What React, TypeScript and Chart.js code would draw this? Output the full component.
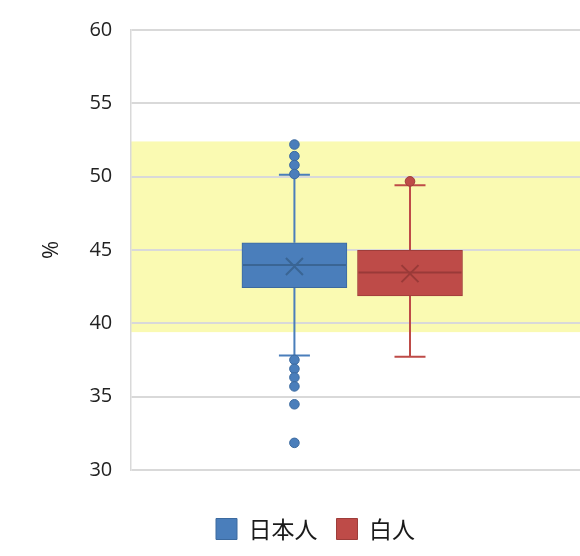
import React, { useEffect, useRef } from 'react';
import { Chart, registerables } from 'chart.js';

Chart.register(...registerables);

// ---- data ----
const SERIES_LABELS = ['日本人', '白人'];
const Q1 = [42.44, 41.87];
const Q3 = [45.49, 44.98];
const MEDIAN = [43.98, 43.46];
const MEAN = [43.87, 43.39];
const WHISKER_LOW = [37.8, 37.73];
const WHISKER_HIGH = [50.13, 49.41];
const OUTLIERS_JP = [52.19, 51.4, 50.79, 50.18, 37.51, 36.9, 36.31, 35.7, 34.48, 31.85];
const OUTLIERS_WHITE = [49.68];
const BAND_RANGE = [39.4, 52.4];
const Y_MIN = 30;
const Y_MAX = 60;
const Y_STEP = 5;

// ---- layout / style ----
const POS = [0.365, 0.622];
const FILL = ['#4a7ebb', '#be4b48'];
const EDGE = ['#3c6a9f', '#9e3d3a'];
const DARK = ['#3a6594', '#9a3a38'];
const BOX_WIDTH = 105;
const CAP_WIDTH = 31;
const BAND_COLOR = '#fafab2';
const GRID_COLOR = '#d9d9d9';

export default function App() {
  const ref = useRef<HTMLCanvasElement>(null);

  useEffect(() => {
    if (!ref.current) return;
    const outliers = [OUTLIERS_JP, OUTLIERS_WHITE];

    const boxExtras = {
      id: 'boxExtras',
      beforeDraw(chart: any) {
        const { ctx, chartArea, scales } = chart;
        const y = scales.y;
        const top = y.getPixelForValue(BAND_RANGE[1]);
        const bottom = y.getPixelForValue(BAND_RANGE[0]);
        ctx.save();
        ctx.fillStyle = BAND_COLOR;
        ctx.fillRect(chartArea.left, top, chartArea.right - chartArea.left, bottom - top);
        ctx.restore();
      },
      beforeDatasetsDraw(chart: any) {
        const { ctx, scales } = chart;
        const x = scales.x;
        const y = scales.y;
        ctx.save();
        ctx.lineWidth = 2;
        for (let i = 0; i < SERIES_LABELS.length; i++) {
          const cx = x.getPixelForValue(POS[i]);
          ctx.strokeStyle = FILL[i];
          const pts: [number, number][] = [
            [Q3[i], WHISKER_HIGH[i]],
            [Q1[i], WHISKER_LOW[i]],
          ];
          for (const [from, to] of pts) {
            const y0 = y.getPixelForValue(from);
            const y1 = y.getPixelForValue(to);
            ctx.beginPath();
            ctx.moveTo(cx, y0);
            ctx.lineTo(cx, y1);
            ctx.moveTo(cx - CAP_WIDTH / 2, y1);
            ctx.lineTo(cx + CAP_WIDTH / 2, y1);
            ctx.stroke();
          }
        }
        ctx.restore();
      },
      afterDatasetsDraw(chart: any) {
        const { ctx, scales } = chart;
        const x = scales.x;
        const y = scales.y;
        ctx.save();
        for (let i = 0; i < SERIES_LABELS.length; i++) {
          const cx = x.getPixelForValue(POS[i]);
          ctx.strokeStyle = DARK[i];
          ctx.lineWidth = 2;
          const my = y.getPixelForValue(MEDIAN[i]);
          ctx.beginPath();
          ctx.moveTo(cx - BOX_WIDTH / 2 + 1, my);
          ctx.lineTo(cx + BOX_WIDTH / 2 - 1, my);
          ctx.stroke();
          const ay = y.getPixelForValue(MEAN[i]);
          const s = 8.5;
          ctx.beginPath();
          ctx.moveTo(cx - s, ay - s);
          ctx.lineTo(cx + s, ay + s);
          ctx.moveTo(cx + s, ay - s);
          ctx.lineTo(cx - s, ay + s);
          ctx.stroke();
        }
        ctx.restore();
      },
    };

    const boxDatasets = SERIES_LABELS.map((label, i) => ({
      type: 'bar' as const,
      label,
      data: [{ x: POS[i], y: [Q1[i], Q3[i]] }],
      backgroundColor: FILL[i],
      borderColor: EDGE[i],
      borderWidth: 1,
      borderSkipped: false,
      barThickness: BOX_WIDTH,
      grouped: false,
      order: 2,
    }));

    const outlierDatasets = SERIES_LABELS.map((label, i) => ({
      type: 'scatter' as const,
      label: label + ' outliers',
      data: outliers[i].map((v) => ({ x: POS[i], y: v })),
      backgroundColor: FILL[i],
      borderColor: EDGE[i],
      borderWidth: 1,
      pointRadius: 4.8,
      order: 1,
    }));

    const chart = new Chart(ref.current, {
      type: 'bar',
      data: { datasets: [...boxDatasets, ...outlierDatasets] as any },
      options: {
        responsive: false,
        animation: false,
        layout: { autoPadding: false, padding: { left: 37, right: -14, top: 28, bottom: 5.5 } },
        plugins: {
          tooltip: { enabled: false },
          legend: {
            position: 'bottom',
            labels: {
              filter: (item: any) => item.datasetIndex < SERIES_LABELS.length,
              boxWidth: 21,
              boxHeight: 21,
              padding: 19,
              color: '#1a1a1a',
              font: { family: '"Noto Sans CJK JP", "Noto Sans", sans-serif', size: 23 },
            },
          },
        },
        scales: {
          x: {
            type: 'linear',
            min: 0,
            max: 1,
            offset: false,
            display: true,
            grid: { display: false, offset: false },
            border: { display: false },
            ticks: { display: false },
            afterFit: (scale: any) => {
              scale.height = 28.5;
            },
          },
          y: {
            min: Y_MIN,
            max: Y_MAX,
            ticks: {
              stepSize: Y_STEP,
              padding: 18,
              color: '#222222',
              font: { family: '"Open Sans", sans-serif', size: 20 },
            },
            grid: { color: GRID_COLOR, lineWidth: 2, drawTicks: false },
            border: { display: true, color: GRID_COLOR, width: 1.5 },
            title: {
              display: true,
              text: '%',
              color: '#1a1a1a',
              padding: { top: 2, bottom: 6 },
              font: { family: '"Open Sans", sans-serif', size: 22 },
            },
          },
        },
      } as any,
      plugins: [boxExtras],
    });

    return () => chart.destroy();
  }, []);

  return (
    <div style={{ position: 'fixed', left: 0, top: 0, width: 580, height: 556, background: '#fff' }}>
      <canvas ref={ref} width={580} height={556} style={{ display: 'block' }} />
    </div>
  );
}
